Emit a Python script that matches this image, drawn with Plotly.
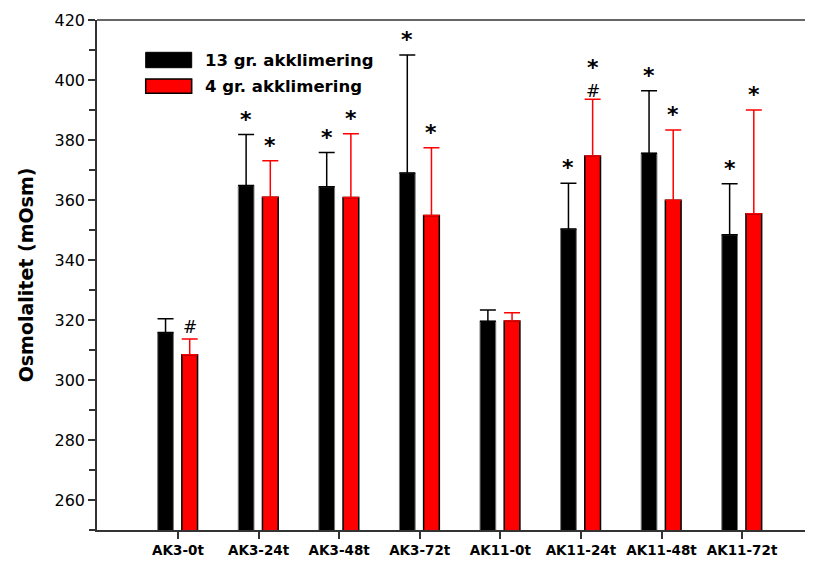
import plotly.graph_objects as go

categories = ["AK3-0t", "AK3-24t", "AK3-48t", "AK3-72t", "AK11-0t", "AK11-24t", "AK11-48t", "AK11-72t"]
series_names = ["13 gr. akklimering", "4 gr. akklimering"]
vals_13 = [315.8, 364.8, 364.4, 369.0, 319.6, 350.3, 375.6, 348.4]
err_13 = [4.6, 17.0, 11.4, 39.3, 3.7, 15.3, 20.8, 17.0]
vals_4 = [308.4, 360.9, 360.8, 354.8, 319.7, 374.7, 359.9, 355.4]
err_4 = [5.3, 12.2, 21.3, 22.6, 2.7, 18.9, 23.4, 34.6]
sig_13 = ["", "*", "*", "*", "", "*", "*", "*"]
sig_4 = ["#", "*", "*", "*", "", "*<br>#", "*", "*"]
yticks = [260, 280, 300, 320, 340, 360, 380, 400, 420]

x = list(range(len(categories)))
FONT = "DejaVu Sans"

# page body has an 8px margin; figure placed accordingly
FIG_W, FIG_H = 805, 556
ML, MT, MB = 89, 12, 34

fig = go.Figure()
fig.add_trace(go.Bar(
    x=x, y=vals_13, name=series_names[0],
    offset=-0.252, width=0.195,
    marker=dict(color="black", line=dict(color="#777777", width=1)),
    error_y=dict(type="data", symmetric=False, array=err_13, arrayminus=[0]*8,
                 color="black", thickness=1.5, width=8),
    showlegend=False,
))
fig.add_trace(go.Bar(
    x=x, y=vals_4, name=series_names[1],
    offset=0.048, width=0.195,
    marker=dict(color="#ff0000", line=dict(color="black", width=1.5)),
    error_y=dict(type="data", symmetric=False, array=err_4, arrayminus=[0]*8,
                 color="#ff0000", thickness=1.5, width=8),
    showlegend=False,
))

annotations = []
for i in range(len(categories)):
    for vals, errs, sig, off in ((vals_13, err_13, sig_13, -0.252), (vals_4, err_4, sig_4, 0.048)):
        if not sig[i]:
            continue
        parts = sig[i].split("<br>")
        top = vals[i] + errs[i]
        stacked = len(parts) > 1
        for k, s in enumerate(reversed(parts)):
            if s == "*":
                annotations.append(dict(x=i + off + 0.0975, y=top, xref="x", yref="y",
                                        text="<b>*</b>", showarrow=False, yanchor="bottom",
                                        yshift=(17 if stacked else 1), font=dict(family=FONT, size=22, color="black")))
            else:
                annotations.append(dict(x=i + off + 0.0975, y=top, xref="x", yref="y",
                                        text="#", showarrow=False, yanchor="bottom",
                                        yshift=(-4 if stacked else 0), font=dict(family=FONT, size=17, color="black")))

W = FIG_W - ML
H = FIG_H - MT - MB
def px(xp):
    return (xp - 97) / W
def py(yp):
    return (530 - yp) / H

shapes = [
    dict(type="line", xref="paper", yref="paper", x0=0, x1=1, y0=1, y1=1,
         line=dict(color="#333333", width=1.5)),
    dict(type="rect", xref="paper", yref="paper", x0=px(145.7), x1=px(191.7), y0=py(67.7), y1=py(52.3),
         fillcolor="black", line=dict(color="black", width=1)),
    dict(type="rect", xref="paper", yref="paper", x0=px(145.7), x1=px(191.7), y0=py(93.3), y1=py(79),
         fillcolor="#ff0000", line=dict(color="black", width=1.5)),
]
for name, yc in ((series_names[0], 60), (series_names[1], 86.5)):
    annotations.append(dict(xref="paper", yref="paper", x=px(203), y=py(yc), xanchor="left", yanchor="middle",
                            text="<b>%s</b>" % name, showarrow=False,
                            font=dict(family=FONT, size=16.5, color="black")))

fig.update_layout(
    width=FIG_W, height=FIG_H,
    margin=dict(l=ML, r=0, t=MT, b=MB, pad=0),
    plot_bgcolor="white", paper_bgcolor="white",
    barmode="overlay",
    shapes=shapes, annotations=annotations,
    font=dict(family=FONT, color="black"),
)
fig.update_xaxes(
    range=[-1.005, 7.88], tickvals=x, ticktext=["<b>%s</b>" % c for c in categories],
    showline=True, linecolor="#333333", linewidth=1.5,
    ticks="outside", ticklen=7, tickcolor="#333333", tickwidth=1.5,
    tickfont=dict(family=FONT, size=13.5, color="black"),
    showgrid=False, zeroline=False,
)
fig.update_yaxes(
    range=[250, 420], tickvals=yticks,
    showline=True, linecolor="#333333", linewidth=1.5,
    ticks="outside", ticklen=7, tickcolor="#333333", tickwidth=1.5,
    minor=dict(dtick=10, tick0=250, ticks="outside", ticklen=6, tickcolor="#333333", tickwidth=1.5),
    tickfont=dict(family=FONT, size=16, color="black"),
    title=dict(text="<b>Osmolalitet (mOsm)</b>", font=dict(family=FONT, size=19, color="black"), standoff=16),
    showgrid=False, zeroline=False,
)

fig.write_html("out.html")
